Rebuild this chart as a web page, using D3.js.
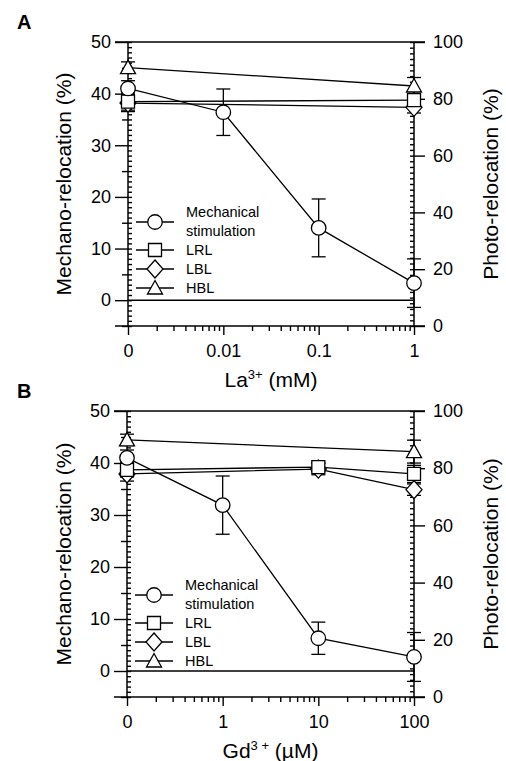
<!DOCTYPE html>
<html>
<head>
<meta charset="utf-8">
<script src="https://cdn.jsdelivr.net/npm/d3@7"></script>
<style>
  body { margin: 0; background: #fff; }
  svg { font-family: "Liberation Sans", Arial, sans-serif; }
  .axis path, .axis line { stroke: #000; stroke-width: 1.4; }
  .axis text { font-size: 18px; fill: #000; }
</style>
</head>
<body>
<div id="chart"></div>
<script>
"use strict";

// Panel A: La3+ (mM)
var laConc = [0, 0.01, 0.1, 1];
var laMech = [41.0, 36.4, 14.0, 3.3];
var laMechErr = [1.5, 4.5, 5.6, 4.7];
var laPhotoConc = [0, 1];
var laLRL = [79.0, 79.5], laLRLErr = [3.0, 2.0];
var laLBL = [78.5, 77.0], laLBLErr = [3.0, 2.0];
var laHBL = [91.0, 84.5], laHBLErr = [2.0, 3.0];
var laTickLabels = ["0", "0.01", "0.1", "1"];

// Panel B: Gd3+ (uM)
var gdConc = [0, 1, 10, 100];
var gdMech = [41.0, 31.9, 6.3, 2.7];
var gdMechErr = [1.5, 5.6, 3.1, 4.7];
var gdPhotoConc = [0, 10, 100];
var gdLRL = [79.4, 80.4, 78.0], gdLRLErr = [2.5, 1.5, 3.0];
var gdLBL = [78.0, 79.7, 72.5], gdLBLErr = [2.5, 2.0, 2.0];
var gdHBLConc = [0, 100];
var gdHBL = [89.9, 85.8], gdHBLErr = [2.0, 4.0];
var gdTickLabels = ["0", "1", "10", "100"];

var leftTicks = [0, 10, 20, 30, 40, 50];
var rightTicks = [0, 20, 40, 60, 80, 100];
var legendNames = ["LRL", "LBL", "HBL"];

var svg = d3.select("#chart").append("svg")
  .attr("width", 506)
  .attr("height", 761);

// marker shapes, relative to the point
function markerPath(shape) {
  if (shape === "circle") return d3.symbol(d3.symbolCircle, 165)();
  if (shape === "square") return "M-6.5,-6.5H6.5V6.5H-6.5Z";
  if (shape === "diamond") return "M0,-9L8,0L0,9L-8,0Z";
  return "M0,-7.5L7.5,6H-7.5Z"; // triangle
}

function drawPanel(p) {
  var g = svg.append("g");
  var x = d3.scaleLog().domain([p.zeroAt, p.xMax]).range([p.left, p.right]);
  var yL = d3.scaleLinear().domain([-5, 50]).range([p.bottom, p.top]);
  var yR = d3.scaleLinear().domain([0, 100]).range([p.bottom, p.top]);
  var xPos = function(v) { return x(v === 0 ? p.zeroAt : v); };

  // frame top / bottom
  [p.top, p.bottom].forEach(function(yy) {
    g.append("line").attr("x1", p.left - 13).attr("x2", p.right + 11)
      .attr("y1", yy).attr("y2", yy).attr("stroke", "#000").attr("stroke-width", 1.5);
  });

  // left axis
  var minorL = d3.range(-5, 51, 1);
  g.append("g").attr("class", "axis")
    .attr("transform", "translate(" + p.left + ",0)")
    .call(d3.axisRight(yL).tickValues(minorL).tickSize(4).tickFormat("").tickSizeOuter(0));
  g.append("g").attr("class", "axis")
    .attr("transform", "translate(" + p.left + ",0)")
    .call(d3.axisLeft(yL).tickValues([-5, 5, 15, 25, 35, 45]).tickSize(6).tickFormat("").tickSizeOuter(0));
  g.append("g").attr("class", "axis")
    .attr("transform", "translate(" + p.left + ",0)")
    .call(d3.axisLeft(yL).tickValues(leftTicks).tickSize(13).tickPadding(4).tickSizeOuter(0));

  // right axis
  g.append("g").attr("class", "axis")
    .attr("transform", "translate(" + p.right + ",0)")
    .call(d3.axisLeft(yR).tickValues(d3.range(0, 101, 2)).tickSize(4).tickFormat("").tickSizeOuter(0));
  g.append("g").attr("class", "axis")
    .attr("transform", "translate(" + p.right + ",0)")
    .call(d3.axisRight(yR).tickValues(rightTicks).tickSize(11).tickPadding(8).tickSizeOuter(0));

  // bottom axis
  var minorX = [];
  var lo = Math.round(Math.log10(p.zeroAt)), hi = Math.round(Math.log10(p.xMax));
  for (var e = lo; e < hi; e++) {
    for (var k = 2; k <= 9; k++) minorX.push(k * Math.pow(10, e));
  }
  var xBase = g.append("g").attr("transform", "translate(0," + p.bottom + ")");
  xBase.append("g").attr("class", "axis")
    .call(d3.axisBottom(x).tickValues(minorX).tickSize(5).tickFormat("").tickSizeOuter(0));
  var majors = [p.zeroAt].concat(p.conc.slice(1));
  xBase.append("g").attr("class", "axis")
    .call(d3.axisBottom(x).tickValues(majors).tickSize(9).tickPadding(9)
      .tickFormat(function(d, i) { return p.tickLabels[i]; }).tickSizeOuter(0));
  g.selectAll(".axis .domain").remove();
  g.append("line").attr("x1", p.left).attr("x2", p.left).attr("y1", p.top).attr("y2", p.bottom)
    .attr("stroke", "#000").attr("stroke-width", 1.5);
  g.append("line").attr("x1", p.right).attr("x2", p.right).attr("y1", p.top).attr("y2", p.bottom)
    .attr("stroke", "#000").attr("stroke-width", 1.5);

  // zero line
  g.append("line").attr("x1", p.left).attr("x2", p.right)
    .attr("y1", yL(0)).attr("y2", yL(0)).attr("stroke", "#000").attr("stroke-width", 1.5);

  // series
  var series = [
    { shape: "diamond", xs: p.lblConc, ys: p.lbl, err: p.lblErr, y: yR },
    { shape: "square", xs: p.lrlConc, ys: p.lrl, err: p.lrlErr, y: yR },
    { shape: "triangle", xs: p.hblConc, ys: p.hbl, err: p.hblErr, y: yR },
    { shape: "circle", xs: p.conc, ys: p.mech, err: p.mechErr, y: yL }
  ];
  series.forEach(function(s) {
    var pts = s.xs.map(function(c, i) { return { c: c, v: s.ys[i], e: s.err[i] }; });
    var line = d3.line().x(function(d) { return xPos(d.c); }).y(function(d) { return s.y(d.v); });
    g.append("path").datum(pts).attr("d", line)
      .attr("fill", "none").attr("stroke", "#000").attr("stroke-width", 1.3);
    s.pts = pts;
  });
  series.forEach(function(s) {
    var eg = g.append("g").attr("stroke", "#000").attr("stroke-width", 1.3);
    s.pts.forEach(function(d) {
      var cx = xPos(d.c);
      eg.append("line").attr("x1", cx).attr("x2", cx)
        .attr("y1", s.y(d.v - d.e)).attr("y2", s.y(d.v + d.e));
      [d.v - d.e, d.v + d.e].forEach(function(v) {
        eg.append("line").attr("x1", cx - 7).attr("x2", cx + 7)
          .attr("y1", s.y(v)).attr("y2", s.y(v));
      });
    });
  });
  series.forEach(function(s) {
    g.selectAll(null).data(s.pts).enter().append("path")
      .attr("d", markerPath(s.shape))
      .attr("transform", function(d) { return "translate(" + xPos(d.c) + "," + s.y(d.v) + ")"; })
      .attr("fill", "#fff").attr("stroke", "#000").attr("stroke-width", 1.3);
  });

  // legend
  var lg = g.append("g").attr("transform", "translate(" + (p.left + 27) + "," + p.legendY + ")");
  var rows = [{ shape: "circle", dy: 0 }, { shape: "square", dy: 28 },
              { shape: "diamond", dy: 47 }, { shape: "triangle", dy: 66 }];
  rows.forEach(function(r, i) {
    lg.append("line").attr("x1", -19).attr("x2", 19).attr("y1", r.dy).attr("y2", r.dy)
      .attr("stroke", "#000").attr("stroke-width", 1.3);
    lg.append("path").attr("d", markerPath(r.shape))
      .attr("transform", "translate(0," + r.dy + ")")
      .attr("fill", "#fff").attr("stroke", "#000").attr("stroke-width", 1.3);
    if (i > 0) {
      lg.append("text").attr("x", 31).attr("y", r.dy + 5).attr("font-size", 14.5)
        .text(legendNames[i - 1]);
    }
  });
  lg.append("text").attr("x", 31).attr("y", -5).attr("font-size", 14.5).text("Mechanical");
  lg.append("text").attr("x", 31).attr("y", 14).attr("font-size", 14.5).text("stimulation");

  // titles
  var midY = (p.top + p.bottom) / 2;
  g.append("text").attr("transform", "translate(71," + midY + ") rotate(-90)")
    .attr("text-anchor", "middle").attr("font-size", 21).text("Mechano-relocation (%)");
  g.append("text").attr("transform", "translate(498," + midY + ") rotate(-90)")
    .attr("text-anchor", "middle").attr("font-size", 21).text("Photo-relocation (%)");

  var xt = g.append("text").attr("x", (p.left + p.right) / 2).attr("y", p.bottom + 61)
    .attr("text-anchor", "middle").attr("font-size", 21);
  xt.append("tspan").text(p.ion);
  xt.append("tspan").attr("dy", -8).attr("font-size", 13).text(p.charge);
  xt.append("tspan").attr("dy", 8).text(" " + p.unit);

  g.append("text").attr("x", 17).attr("y", p.top - 13).attr("font-size", 20)
    .attr("font-weight", "bold").text(p.letter);
}

drawPanel({
  letter: "A", ion: "La", charge: "3+", unit: "(mM)",
  left: 128, right: 414, top: 42, bottom: 326, zeroAt: 0.001, xMax: 1,
  conc: laConc, mech: laMech, mechErr: laMechErr, tickLabels: laTickLabels,
  lrlConc: laPhotoConc, lrl: laLRL, lrlErr: laLRLErr,
  lblConc: laPhotoConc, lbl: laLBL, lblErr: laLBLErr,
  hblConc: laPhotoConc, hbl: laHBL, hblErr: laHBLErr,
  legendY: 222
});

drawPanel({
  letter: "B", ion: "Gd", charge: "3 +", unit: "(\u00b5M)",
  left: 127, right: 414, top: 411, bottom: 697, zeroAt: 0.1, xMax: 100,
  conc: gdConc, mech: gdMech, mechErr: gdMechErr, tickLabels: gdTickLabels,
  lrlConc: gdPhotoConc, lrl: gdLRL, lrlErr: gdLRLErr,
  lblConc: gdPhotoConc, lbl: gdLBL, lblErr: gdLBLErr,
  hblConc: gdHBLConc, hbl: gdHBL, hblErr: gdHBLErr,
  legendY: 595
});
</script>
</body>
</html>
